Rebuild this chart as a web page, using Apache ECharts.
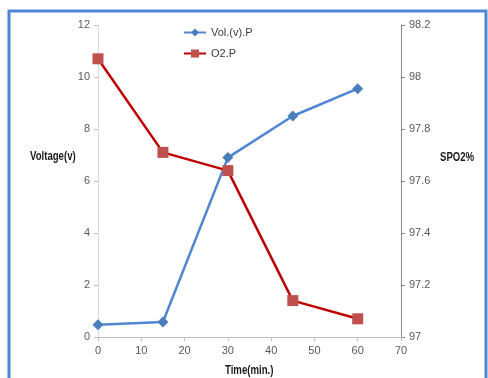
<!DOCTYPE html>
<html><head><meta charset="utf-8">
<script src="https://cdn.jsdelivr.net/npm/echarts@6/dist/echarts.min.js"></script>
<style>html,body{margin:0;padding:0;background:#fff}#c{width:488px;height:378px}</style>
</head><body><div id="c"></div>
<script>
var times = [0, 15, 30, 45, 60];
var voltage = [0.47, 0.58, 6.9, 8.5, 9.55];
var spo2 = [98.07, 97.71, 97.64, 97.14, 97.07];
var FONT = '"Liberation Sans", Arial, sans-serif';
var chart = echarts.init(document.getElementById('c'));
chart.setOption({
  animation: false,
  textStyle: {fontFamily: FONT},
  graphic: [{type: 'rect', shape: {x: 9, y: 11, width: 477, height: 380}, style: {fill: 'none', stroke: '#4f86d3', lineWidth: 3}},
    {type: 'text', x: 30, y: 151, scaleX: 0.8, style: {text: 'Voltage(v)', font: 'bold 12px ' + FONT, fill: '#1a1a1a'}},
    {type: 'text', x: 440, y: 152, scaleX: 0.8, style: {text: 'SPO2%', font: 'bold 12px ' + FONT, fill: '#1a1a1a'}},
    {type: 'text', x: 225, y: 365, scaleX: 0.8, style: {text: 'Time(min.)', font: 'bold 12px ' + FONT, fill: '#1a1a1a'}}
  ],
  legend: {orient: 'vertical', left: 178, top: 22, itemWidth: 22, itemHeight: 10, itemGap: 10,
    textStyle: {fontSize: 11, color: '#404040', fontFamily: FONT}, data: ['Vol.(v).P', 'O2.P']},
  grid: {left: 98, right: 87, top: 25, bottom: 41, containLabel: false},
  xAxis: {type: 'value', min: 0, max: 70, interval: 10,
    axisLine: {lineStyle: {color: '#bfbfbf'}}, axisTick: {show: true, length: 4, lineStyle: {color: '#bfbfbf'}},
    axisLabel: {color: '#595959', fontSize: 11, margin: 8}, splitLine: {show: false}},
  yAxis: [
    {type: 'value', min: 0, max: 12, interval: 2,
      axisLine: {show: true, lineStyle: {color: '#d9d9d9'}}, axisTick: {show: true, length: 4, lineStyle: {color: '#bfbfbf'}},
      axisLabel: {color: '#595959', fontSize: 11, margin: 8}, splitLine: {show: false}},
    {type: 'value', min: 97, max: 98.2, interval: 0.2, position: 'right',
      axisLine: {show: true, lineStyle: {color: '#868686'}}, axisTick: {show: true, length: 4, lineStyle: {color: '#868686'}},
      axisLabel: {color: '#595959', fontSize: 11, margin: 8, formatter: function(v){return String(Math.round(v*10)/10);}}, splitLine: {show: false}}
  ],
  series: [
    {name: 'Vol.(v).P', type: 'line', yAxisIndex: 0, data: times.map(function(t,i){return [t, voltage[i]];}),
      symbol: 'diamond', symbolSize: 11, lineStyle: {color: '#4f86d3', width: 2.5}, itemStyle: {color: '#4a7ebb'}},
    {name: 'O2.P', type: 'line', yAxisIndex: 1, data: times.map(function(t,i){return [t, spo2[i]];}),
      symbol: 'rect', symbolSize: 11, lineStyle: {color: '#c00000', width: 2.5}, itemStyle: {color: '#c0504d'}}
  ]
});
</script></body></html>
